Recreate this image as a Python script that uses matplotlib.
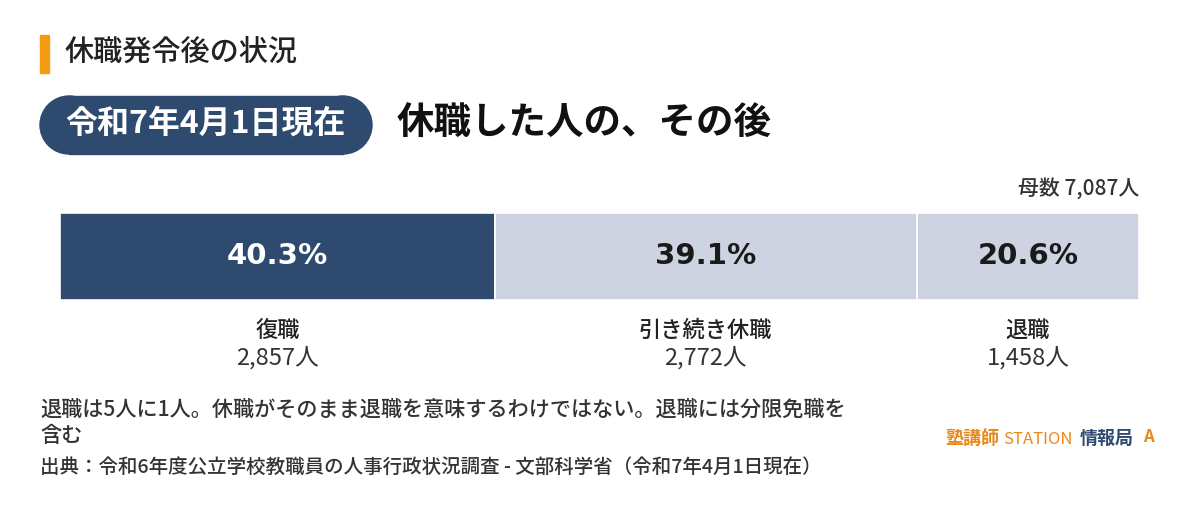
import matplotlib
matplotlib.use('Agg')
import matplotlib.pyplot as plt
from matplotlib.patches import Circle, Rectangle

plt.rcParams['font.family'] = ['Noto Sans CJK JP', 'DejaVu Sans']

# データ
categories = ['復職', '引き続き休職', '退職']
shares = [40.3, 39.1, 20.6]
counts = [2857, 2772, 1458]
total = 7087
colors = ['#2e4a6f', '#cdd3e0', '#cdd3e0']
text_colors = ['white', '#1a1a1a', '#1a1a1a']

W, H = 1200, 505
fig = plt.figure(figsize=(W / 100, H / 100), dpi=100)

# 背景・装飾用の軸（ピクセル座標）
bg = fig.add_axes([0, 0, 1, 1])
bg.set_xlim(0, W)
bg.set_ylim(H, 0)
bg.axis('off')

# 見出し
bg.add_patch(Rectangle((40, 35), 9, 38, color='#f39c12'))
bg.text(65, 52, '休職発令後の状況', fontsize=21, fontweight='medium', va='center',
        ha='left', color='#222222')

# 日付ピル（角丸）
pill = '#2e4a6f'
bg.add_patch(Rectangle((69, 96), 274, 58, color=pill))
bg.add_patch(Circle((69, 125), 29, color=pill))
bg.add_patch(Circle((343, 125), 29, color=pill))
bg.text(206, 124, '令和7年4月1日現在', fontsize=23, fontweight='bold', color='white',
        ha='center', va='center')
bg.text(397, 123, '休職した人の、その後', fontsize=27, fontweight='bold', color='#111111',
        ha='left', va='center')

bg.text(1139, 189, f'母数 {total:,}人', fontsize=15, fontweight='medium',
        ha='right', va='center', color='#333333')

# 帯グラフ
ax = fig.add_axes([60 / W, 1 - 300 / H, 1079 / W, 87 / H])
left = 0
for cat, s, n, c, tc in zip(categories, shares, counts, colors, text_colors):
    ax.barh(0, s, left=left, height=1, color=c, edgecolor='white', linewidth=1.2)
    ax.text(left + s / 2, 0, f'{s}%', ha='center', va='center', fontsize=21,
            fontweight='bold', color=tc, family='DejaVu Sans')
    cx = 60 + (left + s / 2) / 100 * 1079
    bg.text(cx, 330, cat, fontsize=16, fontweight='medium', ha='center', va='center',
            color='#222222')
    bg.text(cx, 358, f'{n:,}人', fontsize=17, ha='center', va='center', color='#333333')
    left += s
ax.set_xlim(0, 100)
ax.set_ylim(-0.5, 0.5)
ax.axis('off')

# 注記・出典
bg.text(40, 410, '退職は5人に1人。休職がそのまま退職を意味するわけではない。退職には分限免職を',
        fontsize=15.2, fontweight='medium', ha='left', va='center', color='#333333')
bg.text(40, 436, '含む', fontsize=15.2, fontweight='medium', ha='left', va='center',
        color='#333333')
bg.text(40, 467, '出典：令和6年度公立学校教職員の人事行政状況調査 - 文部科学省（令和7年4月1日現在）',
        fontsize=14, fontweight='medium', ha='left', va='center', color='#333333')

# ロゴ
bg.text(945, 438, '塾講師', fontsize=13, fontweight='bold', color='#e8891c', ha='left', va='center')
bg.text(1003, 440, 'STATION', fontsize=12, color='#e8891c', ha='left', va='center')
bg.text(1080, 438, '情報局', fontsize=13, fontweight='bold', color='#2e4a6f', ha='left', va='center')
bg.text(1148, 437, 'A', fontsize=12, fontweight='bold', color='#e8891c', ha='center', va='center')

fig.savefig('out.png', dpi=100, facecolor='white')
